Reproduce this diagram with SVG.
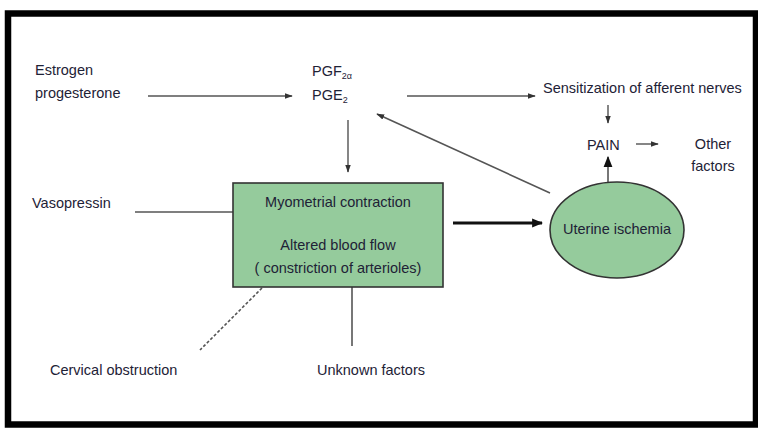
<svg xmlns="http://www.w3.org/2000/svg" width="758" height="428" viewBox="0 0 758 428">
<defs>
<style>
text{font-family:"Liberation Sans",Arial,sans-serif;font-size:14.5px;fill:#1e2236}
.c{text-anchor:middle}
.ln{stroke:#555;stroke-width:1.6;fill:none}
.thin{stroke:#444;stroke-width:1.3;fill:none}
.thick{stroke:#111;stroke-width:3.2;fill:none}
.node{fill:#95cb9c;stroke:#333;stroke-width:1.6}
</style>
<marker id="ah" viewBox="0 0 10 10" refX="9" refY="5" markerWidth="8" markerHeight="8" markerUnits="userSpaceOnUse" orient="auto"><path d="M0,1.5L10,5L0,8.5z" fill="#333"/></marker>
<marker id="ahb" viewBox="0 0 10 10" refX="9" refY="5" markerWidth="11" markerHeight="11" markerUnits="userSpaceOnUse" orient="auto"><path d="M0,1L10,5L0,9z" fill="#111"/></marker>
</defs>
<rect x="0" y="0" width="758" height="428" fill="#fff"/>
<rect x="8" y="13.5" width="748" height="411" fill="none" stroke="#000" stroke-width="6.5"/>

<g id="connectors">
<line class="ln" x1="148" y1="96" x2="292" y2="96" marker-end="url(#ah)"/>
<line class="thin" x1="348" y1="120" x2="348" y2="172" marker-end="url(#ah)"/>
<line class="ln" x1="407" y1="96" x2="535" y2="96" marker-end="url(#ah)"/>
<line class="thin" x1="608" y1="105" x2="608" y2="123" marker-end="url(#ah)"/>
<line class="thin" x1="636" y1="144" x2="658" y2="144" marker-end="url(#ah)"/>
<line class="ln" x1="608" y1="182" x2="608" y2="157" stroke="#111" stroke-width="2.2" marker-end="url(#ahb)"/>
<line class="ln" x1="550" y1="193" x2="377" y2="114" marker-end="url(#ah)"/>
<line class="thick" x1="453" y1="223" x2="542" y2="223" marker-end="url(#ahb)"/>
<line class="ln" x1="135" y1="212" x2="233" y2="212"/>
<line class="ln" x1="262" y1="288" x2="200" y2="350" stroke="#888" stroke-dasharray="3 2"/>
<line class="ln" x1="352" y1="287" x2="352" y2="346"/>
</g>

<g id="estrogen"><text x="35" y="75">Estrogen</text><text x="35" y="98">progesterone</text></g>
<g id="pg"><text x="312" y="76">PGF<tspan font-size="9" dy="3">2α</tspan></text><text x="312" y="100">PGE<tspan font-size="9" dy="3">2</tspan></text></g>
<g id="sensitization"><text x="543" y="93">Sensitization of afferent nerves</text></g>
<g id="pain"><text x="587" y="150">PAIN</text></g>
<g id="other"><text class="c" x="713" y="149">Other</text><text class="c" x="713" y="171">factors</text></g>
<g id="vasopressin"><text x="32" y="208">Vasopressin</text></g>
<g id="box"><rect class="node" x="233" y="183" width="210" height="104"/>
<text class="c" x="338" y="207">Myometrial contraction</text>
<text class="c" x="338" y="250">Altered blood flow</text>
<text class="c" x="338" y="273">( constriction of arterioles)</text></g>
<g id="ischemia"><ellipse class="node" cx="617" cy="230" rx="67" ry="48"/><text class="c" x="617" y="234">Uterine ischemia</text></g>
<g id="cervical"><text x="50" y="375">Cervical obstruction</text></g>
<g id="unknown"><text x="317" y="375">Unknown factors</text></g>
</svg>
